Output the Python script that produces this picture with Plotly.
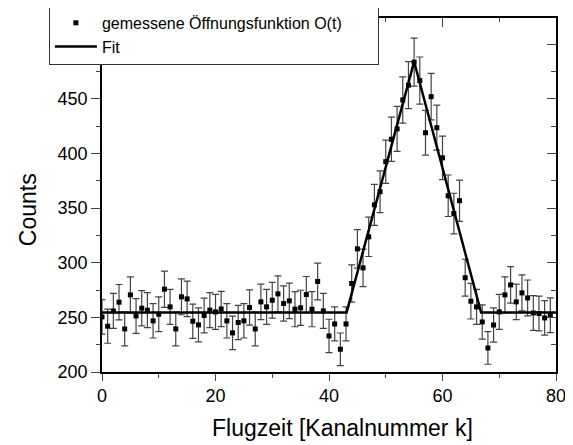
import plotly.graph_objects as go

channels = list(range(80))
counts = [250.4, 241.9, 255.9, 263.9, 239.4, 270.6, 251.3, 258.4, 256.6, 246.8,
          252.9, 275.8, 259.6, 239.4, 268.8, 266.9, 246.5, 243.1, 251.7, 256.6,
          255.0, 257.7, 246.8, 235.8, 245.3, 246.8, 259.0, 239.4, 264.2, 259.6,
          265.7, 271.5, 262.7, 265.1, 257.5, 258.7, 270.9, 257.5, 282.9, 255.9,
          233.0, 244.0, 220.8, 244.0, 281.0, 312.7, 295.3, 323.7, 353.0, 365.0,
          392.5, 413.0, 422.5, 449.0, 462.5, 483.6, 466.7, 419.0, 452.0, 423.6,
          396.0, 361.3, 345.0, 356.8, 286.3, 264.8, 259.6, 245.8, 222.0, 243.0,
          255.0, 270.6, 279.7, 264.2, 272.4, 267.8, 254.0, 253.5, 249.5, 252.0]
errors = [15.8, 15.6, 16.0, 16.2, 15.5, 16.5, 15.9, 16.1, 16.0, 15.7,
          15.9, 16.6, 16.1, 15.5, 16.4, 16.3, 15.7, 15.6, 15.9, 16.0,
          16.0, 16.1, 15.7, 15.4, 15.7, 15.7, 16.1, 15.5, 16.3, 16.1,
          16.3, 16.5, 16.2, 16.3, 16.1, 16.1, 16.5, 16.1, 16.8, 16.0,
          15.3, 15.6, 14.9, 15.6, 17.0, 17.7, 17.2, 18.0, 18.8, 19.1,
          19.8, 20.3, 20.6, 21.2, 21.5, 22.0, 21.6, 20.5, 21.3, 20.6,
          19.9, 19.0, 18.6, 18.9, 16.9, 16.3, 16.1, 15.7, 14.9, 15.6,
          16.0, 16.5, 16.7, 16.3, 16.5, 16.4, 15.9, 15.9, 15.8, 15.9]

fit_x = [0, 43.1, 55.0, 66.8, 80]
fit_y = [254.5, 254.5, 484.0, 254.5, 254.5]

x_range = [0, 80]
y_range = [200, 524]

x_title = "Flugzeit [Kanalnummer k]"
y_title = "Counts"
data_name = "gemessene Öffnungsfunktion O(t)"
fit_name = "Fit"

FONT = "Liberation Sans, Arial, sans-serif"
PAD = "\u00a0" * 7  # widen legend box like the reference

fig = go.Figure()
fig.add_trace(go.Scatter(
    x=channels, y=counts, mode="markers",
    name=data_name + PAD,
    marker=dict(symbol="square", size=5, color="black"),
    error_y=dict(type="data", array=errors, visible=True,
                 color="#444444", thickness=1.2, width=3.5),
))
fig.add_trace(go.Scatter(
    x=fit_x, y=fit_y, mode="lines", name=fit_name,
    line=dict(color="black", width=2.5),
))
# helper trace for mirrored (top/right) axes
fig.add_trace(go.Scatter(x=[None], y=[None], xaxis="x2", yaxis="y2",
                         showlegend=False, hoverinfo="skip"))

# the page body has an 8px margin, so the figure is made 8px smaller
fig.update_layout(
    width=565, height=437,
    margin=dict(l=94, r=17, t=10, b=73, autoexpand=False),
    paper_bgcolor="white", plot_bgcolor="white",
    font=dict(family=FONT, color="black"),
    showlegend=True,
    legend=dict(x=-0.117, y=1.037, xanchor="left", yanchor="top",
                bgcolor="white", bordercolor="#333333", borderwidth=1,
                font=dict(size=16, family=FONT), tracegroupgap=0,
                itemwidth=42),
    xaxis=dict(range=x_range, dtick=20, tick0=0, ticks="outside", ticklen=7,
               tickwidth=1.3, showline=True, linecolor="black", linewidth=1.5,
               showgrid=False, zeroline=False, tickfont=dict(size=18),
               minor=dict(dtick=10, ticks="outside", ticklen=4, tickwidth=1.3)),
    yaxis=dict(range=y_range, dtick=50, tick0=200, ticks="outside", ticklen=9,
               tickwidth=1.3, showline=True, linecolor="black", linewidth=1.5,
               showgrid=False, zeroline=False, tickfont=dict(size=18),
               minor=dict(dtick=25, ticks="outside", ticklen=4, tickwidth=1.3)),
    xaxis2=dict(range=x_range, overlaying="x", side="top", dtick=20, tick0=0,
                ticks="inside", ticklen=9, tickwidth=1.3, showline=True,
                linecolor="black", linewidth=1.5, showgrid=False,
                zeroline=False, showticklabels=False,
                minor=dict(dtick=10, ticks="inside", ticklen=4, tickwidth=1.3)),
    yaxis2=dict(range=y_range, overlaying="y", side="right", dtick=50,
                tick0=200, ticks="inside", ticklen=9, tickwidth=1.3,
                showline=True, linecolor="black", linewidth=1.5,
                showgrid=False, zeroline=False, showticklabels=False,
                minor=dict(dtick=25, ticks="inside", ticklen=5, tickwidth=1.3)),
    annotations=[
        dict(text=x_title, xref="paper", yref="paper", x=0.529, y=-0.158,
             xanchor="center", yanchor="middle", showarrow=False,
             font=dict(size=23, family=FONT)),
        dict(text=y_title, xref="paper", yref="paper", x=-0.163, y=0.46,
             xanchor="center", yanchor="middle", showarrow=False,
             textangle=-90, font=dict(size=23, family=FONT)),
    ],
)

fig.write_html("out.html")
